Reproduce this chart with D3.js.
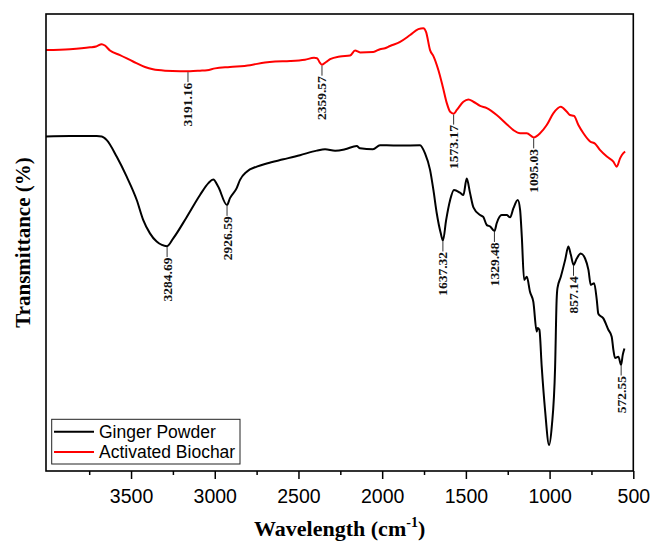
<!DOCTYPE html>
<html>
<head>
<meta charset="utf-8">
<script src="https://cdn.jsdelivr.net/npm/d3@7"></script>
<style>
  html, body { margin: 0; padding: 0; background: #fff; }
  svg { display: block; }
</style>
</head>
<body>
<div id="chart"></div>
<script>
// ---------------- data ----------------
const seriesNames = ["Ginger Powder", "Activated Biochar"];
const seriesColors = ["#000000", "#ff0000"];

const gingerWave = [4008,3865,3705,3675,3645,3586,3526,3466,3427,3387,3347,3285,3248,3167,3088,3038,3009,2979,2927,2909,2869,2849,2809,2749,2690,2590,2491,2391,2341,2281,2222,2152,2132,2055,2013,1973,1893,1774,1744,1714,1694,1674,1650,1637,1618,1594,1571,1535,1515,1495,1475,1455,1415,1396,1375,1355,1329,1316,1286,1256,1236,1216,1190,1176,1166,1152,1136,1117,1097,1077,1072,1061,1047,1027,1003,987,967,958,953,933,907,888,873,857,838,814,788,768,754,734,718,709,679,649,629,619,609,589,573,563,553];
const gingerT = [73.2,73.3,73.3,73.2,72.4,68.8,64.4,59.3,54.9,52.0,50.2,49.2,50.9,55.6,60.4,63.0,63.8,62.2,58.2,59.7,61.9,63.7,65.5,66.6,67.3,68.2,69.1,70.1,70.4,70.1,70.4,71.1,70.6,70.4,71.3,71.3,71.2,71.3,69.5,65.9,61.5,56.4,52.0,50.4,54.9,59.3,61.5,60.9,60.4,64.0,60.8,57.7,56.0,55.6,53.8,53.5,52.5,54.2,56.0,56.0,55.5,57.5,59.3,57.1,51.3,41.8,42.5,39.2,37.0,30.5,31.3,30.9,22.8,13.3,5.7,9.7,22.8,37.4,40.0,42.5,46.2,49.1,47.3,45.1,46.5,47.6,46.5,44.0,40.7,41.1,37.4,34.4,33.4,30.9,29.4,26.5,24.7,25.0,23.2,25.4,26.8];

const biocharWave = [4008,3865,3745,3709,3675,3656,3626,3566,3488,3417,3369,3297,3207,3148,3088,3046,2998,2909,2789,2700,2640,2550,2461,2407,2389,2371,2360,2335,2311,2252,2192,2162,2132,2053,2013,1983,1953,1893,1833,1784,1754,1738,1714,1694,1664,1638,1614,1594,1573,1554,1515,1485,1455,1415,1375,1316,1256,1216,1176,1136,1095,1057,1017,977,933,897,878,854,828,798,758,728,698,658,619,599,579,569,549];
const biocharT = [92.1,92.3,92.7,92.9,93.4,93.1,92.0,91.0,89.6,88.4,87.9,87.6,87.5,87.5,87.6,87.7,88.1,88.4,88.8,89.4,89.6,89.7,90.0,90.4,90.3,89.3,88.9,89.5,90.1,90.7,90.9,92.0,91.6,91.7,92.3,92.5,93.0,93.9,95.4,96.7,96.9,96.1,92.1,90.8,87.7,84.1,80.5,78.6,78.2,79.0,80.8,81.3,80.8,79.9,79.4,77.9,75.9,74.6,73.9,73.9,73.0,73.9,75.7,78.3,79.7,78.6,77.9,77.7,75.7,73.9,72.1,71.6,70.2,68.8,67.7,66.6,68.4,69.1,69.9];

// peak annotations
const annoLabel  = ["3191.16","2359.57","1573.17","1095.03","3284.69","2926.59","1637.32","1329.48","857.14","572.55"];
const annoPos    = [3160, 2359.57, 1573.17, 1095.03, 3284.69, 2926.59, 1637.32, 1329.48, 857.14, 572.55];
const annoSeries = [1,1,1,1,0,0,0,0,0,0];

// axis ticks
const majorTicks = [3500,3000,2500,2000,1500,1000,500];
const minorTicks = [3750,3250,2750,2250,1750,1250,750];
const xDomain = [4008, 500];
const yDomain = [0, 100];

// ---------------- drawing ----------------
const W = 651, H = 542;
const L = 46, R = 633.3, T = 14, B = 471;

const svg = d3.select("#chart").append("svg")
  .attr("width", W).attr("height", H)
  .style("background", "#fff");

const x = d3.scaleLinear().domain(xDomain).range([L, R]);
const y = d3.scaleLinear().domain(yDomain).range([B, T]);

const series = [
  { wave: gingerWave, t: gingerT },
  { wave: biocharWave, t: biocharT }
];

const line = d3.line()
  .x(d => x(d[0]))
  .y(d => y(d[1]))
  .curve(d3.curveMonotoneX);

[1, 0].forEach(i => {
  const pts = series[i].wave.map((w, k) => [w, series[i].t[k]]);
  svg.append("path")
    .attr("d", line(pts))
    .attr("fill", "none")
    .attr("stroke", seriesColors[i])
    .attr("stroke-width", 2)
    .attr("stroke-linejoin", "round");
});

function valueAt(s, w) {
  const wv = s.wave, tv = s.t;
  for (let k = 0; k < wv.length - 1; k++) {
    if (w <= wv[k] && w >= wv[k + 1]) {
      const f = (wv[k] - w) / (wv[k] - wv[k + 1]);
      return tv[k] + f * (tv[k + 1] - tv[k]);
    }
  }
  return tv[tv.length - 1];
}

// annotations
const annoG = svg.append("g");
annoLabel.forEach((lab, i) => {
  const s = series[annoSeries[i]];
  const px = x(annoPos[i]);
  const py = y(valueAt(s, annoPos[i])) + 1;
  annoG.append("line")
    .attr("x1", px).attr("x2", px)
    .attr("y1", py).attr("y2", py + 10)
    .attr("stroke", "#333").attr("stroke-width", 1);
  annoG.append("text")
    .attr("transform", `translate(${px},${py + 10.5}) rotate(-90)`)
    .attr("text-anchor", "end")
    .attr("dominant-baseline", "central")
    .attr("font-family", "'Liberation Serif', 'Times New Roman', serif")
    .attr("font-weight", "bold")
    .attr("font-size", 13.5)
    .attr("fill", "#111")
    .text(lab);
});

// frame
svg.append("rect")
  .attr("x", L).attr("y", T)
  .attr("width", R - L).attr("height", B - T)
  .attr("fill", "none").attr("stroke", "#000").attr("stroke-width", 1.6);

// x axis major
const axMajor = svg.append("g")
  .attr("transform", `translate(0,${B})`)
  .call(d3.axisBottom(x).tickValues(majorTicks).tickSize(8).tickPadding(10).tickFormat(d3.format("d")));
axMajor.select(".domain").remove();
axMajor.selectAll("line").attr("stroke", "#000").attr("stroke-width", 1.5);
axMajor.selectAll("text")
  .attr("font-family", "'Liberation Sans', Arial, sans-serif")
  .attr("font-size", 19.5)
  .attr("fill", "#000");

const axMinor = svg.append("g")
  .attr("transform", `translate(0,${B})`)
  .call(d3.axisBottom(x).tickValues(minorTicks).tickSize(4).tickFormat(""));
axMinor.select(".domain").remove();
axMinor.selectAll("line").attr("stroke", "#000").attr("stroke-width", 1.5);

// axis titles
const xt = svg.append("text")
  .attr("x", (L + R) / 2).attr("y", 536)
  .attr("text-anchor", "middle")
  .attr("font-family", "'Liberation Serif', 'Times New Roman', serif")
  .attr("font-weight", "bold")
  .attr("font-size", 22)
  .attr("fill", "#000");
xt.append("tspan").text("Wavelength (cm");
xt.append("tspan").attr("dy", -9).attr("font-size", 14).text("-1");
xt.append("tspan").attr("dy", 9).text(")");

svg.append("text")
  .attr("transform", `translate(23,${(T + B) / 2}) rotate(-90)`)
  .attr("text-anchor", "middle")
  .attr("dominant-baseline", "central")
  .attr("font-family", "'Liberation Serif', 'Times New Roman', serif")
  .attr("font-weight", "bold")
  .attr("font-size", 21)
  .attr("fill", "#000")
  .text("Transmittance (%)");

// legend
const lg = svg.append("g");
lg.append("rect")
  .attr("x", 51.7).attr("y", 419.3)
  .attr("width", 188.3).attr("height", 44.7)
  .attr("fill", "#fff").attr("stroke", "#222").attr("stroke-width", 1);
seriesNames.forEach((name, i) => {
  const ly = 431.7 + i * 20.3;
  lg.append("line")
    .attr("x1", 54).attr("x2", 94)
    .attr("y1", ly).attr("y2", ly)
    .attr("stroke", seriesColors[i]).attr("stroke-width", 2);
  lg.append("text")
    .attr("x", 99).attr("y", ly + 5.8)
    .attr("font-family", "'Liberation Sans', Arial, sans-serif")
    .attr("font-size", 17.5)
    .attr("fill", "#000")
    .text(name);
});
</script>
</body>
</html>
